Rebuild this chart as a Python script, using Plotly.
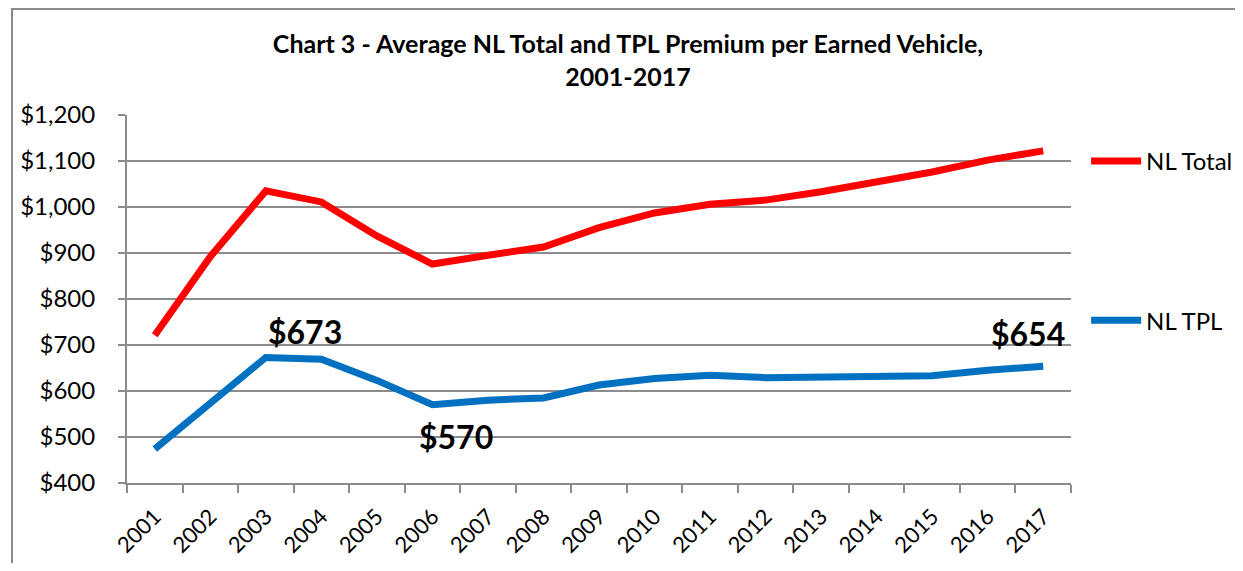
import plotly.graph_objects as go

years = [str(y) for y in range(2001, 2018)]
nl_total = [721, 892, 1035, 1011, 937, 876, 895, 913, 955, 987, 1006, 1015, 1033, 1055, 1076, 1102, 1122]
nl_tpl = [474, 574, 673, 669, 623, 570, 580, 585, 613, 627, 634, 629, 630, 632, 633, 645, 654]
y_ticks = [400, 500, 600, 700, 800, 900, 1000, 1100, 1200]
y_tick_labels = ["$400", "$500", "$600", "$700", "$800", "$900", "$1,000", "$1,100", "$1,200"]
label_idx = [2, 5, 16]
label_shift = [(39, 26), (24, -32), (-15, 33)]

FONT = "Lato"
GRID = "#8c8c8c"

# page body has an 8px margin on each side; keep the figure inside the 1243x571 window
W, H = 1227, 555
L, T = 119, 107
PW, PH = 944, 368

fig = go.Figure()
fig.add_trace(go.Scatter(x=years, y=nl_total, mode="lines", name="NL Total",
                         line=dict(color="#FF0000", width=7), legendgroup="a"))
fig.add_trace(go.Scatter(x=years, y=nl_tpl, mode="lines", name="NL TPL",
                         line=dict(color="#0070C0", width=7), legendgroup="b"))

for i, (dx, dy) in zip(label_idx, label_shift):
    fig.add_annotation(x=i, y=nl_tpl[i], text=f"<b>${nl_tpl[i]}</b>",
                       showarrow=False, xshift=dx, yshift=dy,
                       font=dict(family=FONT, size=32, color="black"))

fig.update_layout(
    width=W, height=H,
    margin=dict(l=L, r=W - L - PW, t=T, b=H - T - PH, autoexpand=False),
    paper_bgcolor="white", plot_bgcolor="white",
    title=dict(text="<b>Chart 3 - Average NL Total and TPL Premium per Earned Vehicle,<br>2001-2017</b>",
               x=(628 - 8) / W, xanchor="center", y=1 - 45 / H, yanchor="top",
               font=dict(family=FONT, size=25, color="black")),
    legend=dict(x=1.016, xanchor="left", y=0.935, yanchor="top",
                font=dict(family=FONT, size=24, color="black"),
                tracegroupgap=125, bgcolor="rgba(0,0,0,0)", itemwidth=50),
    showlegend=True,
    xaxis=dict(type="category", range=[-0.5, 16.5], showgrid=False, showline=True,
               linecolor=GRID, linewidth=2, automargin=False,
               ticks="outside", tickson="boundaries", ticklen=8, tickcolor=GRID, tickwidth=2,
               tickangle=-45, ticklabelstandoff=10,
               tickfont=dict(family=FONT, size=22, color="black")),
    yaxis=dict(range=[400, 1200], tickvals=y_ticks, ticktext=y_tick_labels,
               showgrid=True, gridcolor=GRID, gridwidth=2, zeroline=False,
               showline=True, linecolor=GRID, linewidth=2, automargin=False,
               ticks="outside", ticklen=7, tickcolor=GRID, tickwidth=2,
               ticklabelstandoff=18,
               tickfont=dict(family=FONT, size=24, color="black")),
    shapes=[dict(type="rect", xref="paper", yref="paper",
                 x0=(12 - 127) / PW, x1=(1250 - 127) / PW,
                 y0=(483 - 580) / PH, y1=(483 - 9) / PH,
                 line=dict(color="#8a8a8a", width=2), fillcolor="rgba(0,0,0,0)", layer="below")],
)

fig.write_html("out.html")
